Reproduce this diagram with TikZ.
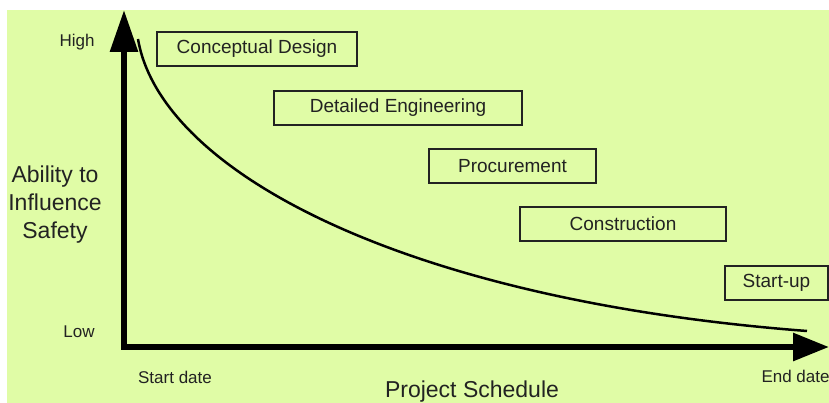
\documentclass[tikz,border=0pt]{standalone}
\usepackage{fontspec}
\setmainfont{Liberation Sans}
\usetikzlibrary{arrows.meta}

\definecolor{bggreen}{RGB}{224,252,166}
\definecolor{inkgray}{RGB}{34,34,34}

\begin{document}
\begin{tikzpicture}[x=1pt, y=-1pt,
    phase/.style={draw=inkgray, line width=2pt, minimum height=34pt,
      inner sep=0pt, text=inkgray, font=\fontsize{19}{22}\selectfont},
    tick/.style={text=inkgray, font=\fontsize{17}{20}\selectfont},
    axislabel/.style={text=inkgray, font=\fontsize{23}{28}\selectfont}]

  % Page and background
  \clip (0,0) rectangle (829,403);
  \fill[white] (0,0) rectangle (829,403);
  \fill[bggreen] (7,10) rectangle (829,403);

  % Axes
  \coordinate (origin) at (124,347);
  \coordinate (ytop) at (124,10);
  \coordinate (xend) at (829,347);
  \draw[line width=6pt, line join=miter,
        {Triangle[length=42pt,width=27pt]}-{Triangle[length=36pt,width=27pt]}]
    (ytop) -- (origin) -- (xend);

  % Axis labels
  \node[tick] (high) at (77,42) {High};
  \node[tick] (low) at (79,332) {Low};
  \node[tick] (start) at (175,377) {Start date};
  \node[tick, anchor=west] (end) at (758,376) {End date};
  \node[axislabel, align=center] (ability) at (55,205)
    {Ability to\\Influence\\Safety};
  \node[axislabel, anchor=base] (schedule) at (472,397) {Project Schedule};

  % Influence curve
  \coordinate (cstart) at (138,39);
  \coordinate (cend) at (807,331);
  \draw[line width=2.5pt] (cstart) .. controls (160,170) and (400,300) .. (cend);

  % Project phases
  \node[phase, minimum width=200pt] (concept) at (257,49) {Conceptual Design};
  \node[phase, minimum width=248pt] (detail) at (398,108) {Detailed Engineering};
  \node[phase, minimum width=167pt] (procure) at (512.5,166) {Procurement};
  \node[phase, minimum width=206pt] (construct) at (623,224) {Construction};
  \node[phase, minimum width=103pt] (startup) at (776.5,282.5) {Start-up};

\end{tikzpicture}
\end{document}
